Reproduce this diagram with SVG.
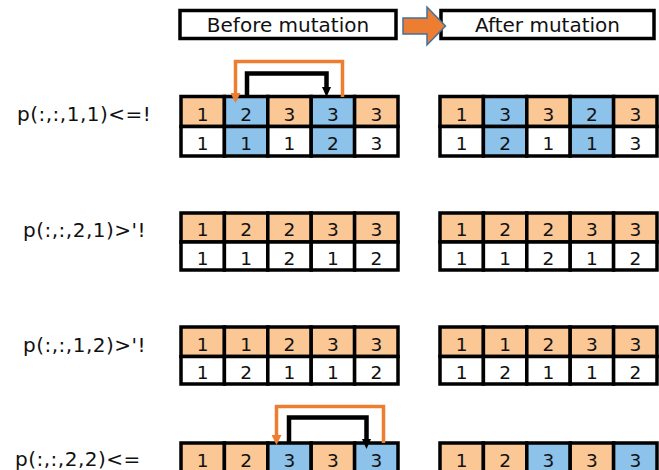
<svg xmlns="http://www.w3.org/2000/svg" width="659" height="470" viewBox="0 0 659 470">
  <style>
    .c{stroke:#000;stroke-width:3.5}
    .o{fill:#FAC795}
    .b{fill:#8DC2EA}
    .w{fill:#fff}
    .d{font-family:"DejaVu Sans","Liberation Sans",sans-serif;font-size:18.5px;fill:#111;text-anchor:middle}
    .lbl{font-family:"DejaVu Sans","Liberation Sans",sans-serif;font-size:20px;fill:#111;letter-spacing:0.5px}
    .hd{font-family:"DejaVu Sans","Liberation Sans",sans-serif;font-size:20px;fill:#111;text-anchor:middle}
    .hbox{fill:#fff;stroke:#000;stroke-width:3.5}
    .sw-o{fill:none;stroke:#ED7D31;stroke-width:3.5}
    .sw-k{fill:none;stroke:#000;stroke-width:4.5}
  </style>
  <defs>
    <marker id="headO" viewBox="0 0 10 10" refX="4" refY="5" markerWidth="10" markerHeight="10" markerUnits="userSpaceOnUse" orient="auto">
      <path d="M0,0 L10,5 L0,10 z" fill="#ED7D31"/>
    </marker>
    <marker id="headK" viewBox="0 0 10 10" refX="4" refY="5" markerWidth="10" markerHeight="10" markerUnits="userSpaceOnUse" orient="auto">
      <path d="M0,0.5 L10,5 L0,9.5 z" fill="#000"/>
    </marker>
  </defs>

  <rect width="659" height="470" fill="#fff"/>

  <!-- headers -->
  <g id="hdr-before">
    <rect class="hbox" x="180" y="10.5" width="216" height="28"/>
    <text class="hd" x="288" y="31.5">Before mutation</text>
  </g>
  <g id="hdr-after">
    <rect class="hbox" x="441" y="10.5" width="213" height="28"/>
    <text class="hd" x="547.5" y="31.5">After mutation</text>
  </g>
  <g id="hdr-arrow">
    <polygon points="403,18 427,18 427,7 445.5,26 427,45 427,34 403,34" fill="#ED7D31" stroke="#41719C" stroke-width="1.5" stroke-linejoin="miter"/>
  </g>

  <!-- row labels -->
  <g id="label-11"><text class="lbl" x="17" y="120.5">p(:,:,1,1)&lt;=!</text></g>
  <g id="label-21"><text class="lbl" x="23" y="236.5">p(:,:,2,1)&gt;'!</text></g>
  <g id="label-12"><text class="lbl" x="23" y="351.5">p(:,:,1,2)&gt;'!</text></g>
  <g id="label-22"><text class="lbl" x="15" y="466">p(:,:,2,2)&lt;=</text></g>

  <!-- p(:,:,1,1) before -->
  <g id="t11-before">
    <rect class="c o" x="181" y="96.5" width="43.4" height="30"/>
    <rect class="c b" x="224.4" y="96.5" width="43.4" height="30"/>
    <rect class="c o" x="267.8" y="96.5" width="43.4" height="30"/>
    <rect class="c b" x="311.2" y="96.5" width="43.4" height="30"/>
    <rect class="c o" x="354.6" y="96.5" width="43.4" height="30"/>
    <rect class="c w" x="181" y="126.5" width="43.4" height="29.5"/>
    <rect class="c b" x="224.4" y="126.5" width="43.4" height="29.5"/>
    <rect class="c w" x="267.8" y="126.5" width="43.4" height="29.5"/>
    <rect class="c b" x="311.2" y="126.5" width="43.4" height="29.5"/>
    <rect class="c w" x="354.6" y="126.5" width="43.4" height="29.5"/>
    <text class="d" x="202.7" y="120.5">1</text><text class="d" x="246.1" y="120.5">2</text><text class="d" x="289.5" y="120.5">3</text><text class="d" x="332.9" y="120.5">3</text><text class="d" x="376.3" y="120.5">3</text>
    <text class="d" x="202.7" y="149.5">1</text><text class="d" x="246.1" y="149.5">1</text><text class="d" x="289.5" y="149.5">1</text><text class="d" x="332.9" y="149.5">2</text><text class="d" x="376.3" y="149.5">3</text>
  </g>
  <!-- p(:,:,1,1) after -->
  <g id="t11-after">
    <rect class="c o" x="440" y="96.5" width="43.4" height="30"/>
    <rect class="c b" x="483.4" y="96.5" width="43.4" height="30"/>
    <rect class="c o" x="526.8" y="96.5" width="43.4" height="30"/>
    <rect class="c b" x="570.2" y="96.5" width="43.4" height="30"/>
    <rect class="c o" x="613.6" y="96.5" width="43.4" height="30"/>
    <rect class="c w" x="440" y="126.5" width="43.4" height="29.5"/>
    <rect class="c b" x="483.4" y="126.5" width="43.4" height="29.5"/>
    <rect class="c w" x="526.8" y="126.5" width="43.4" height="29.5"/>
    <rect class="c b" x="570.2" y="126.5" width="43.4" height="29.5"/>
    <rect class="c w" x="613.6" y="126.5" width="43.4" height="29.5"/>
    <text class="d" x="461.7" y="120.5">1</text><text class="d" x="505.1" y="120.5">3</text><text class="d" x="548.5" y="120.5">3</text><text class="d" x="591.9" y="120.5">2</text><text class="d" x="635.3" y="120.5">3</text>
    <text class="d" x="461.7" y="149.5">1</text><text class="d" x="505.1" y="149.5">2</text><text class="d" x="548.5" y="149.5">1</text><text class="d" x="591.9" y="149.5">1</text><text class="d" x="635.3" y="149.5">3</text>
  </g>

  <!-- p(:,:,2,1) before -->
  <g id="t21-before">
    <rect class="c o" x="181" y="213" width="43.4" height="29"/>
    <rect class="c o" x="224.4" y="213" width="43.4" height="29"/>
    <rect class="c o" x="267.8" y="213" width="43.4" height="29"/>
    <rect class="c o" x="311.2" y="213" width="43.4" height="29"/>
    <rect class="c o" x="354.6" y="213" width="43.4" height="29"/>
    <rect class="c w" x="181" y="242" width="43.4" height="28"/>
    <rect class="c w" x="224.4" y="242" width="43.4" height="28"/>
    <rect class="c w" x="267.8" y="242" width="43.4" height="28"/>
    <rect class="c w" x="311.2" y="242" width="43.4" height="28"/>
    <rect class="c w" x="354.6" y="242" width="43.4" height="28"/>
    <text class="d" x="202.7" y="236">1</text><text class="d" x="246.1" y="236">2</text><text class="d" x="289.5" y="236">2</text><text class="d" x="332.9" y="236">3</text><text class="d" x="376.3" y="236">3</text>
    <text class="d" x="202.7" y="264.5">1</text><text class="d" x="246.1" y="264.5">1</text><text class="d" x="289.5" y="264.5">2</text><text class="d" x="332.9" y="264.5">1</text><text class="d" x="376.3" y="264.5">2</text>
  </g>
  <!-- p(:,:,2,1) after -->
  <g id="t21-after">
    <rect class="c o" x="440" y="213" width="43.4" height="29"/>
    <rect class="c o" x="483.4" y="213" width="43.4" height="29"/>
    <rect class="c o" x="526.8" y="213" width="43.4" height="29"/>
    <rect class="c o" x="570.2" y="213" width="43.4" height="29"/>
    <rect class="c o" x="613.6" y="213" width="43.4" height="29"/>
    <rect class="c w" x="440" y="242" width="43.4" height="28"/>
    <rect class="c w" x="483.4" y="242" width="43.4" height="28"/>
    <rect class="c w" x="526.8" y="242" width="43.4" height="28"/>
    <rect class="c w" x="570.2" y="242" width="43.4" height="28"/>
    <rect class="c w" x="613.6" y="242" width="43.4" height="28"/>
    <text class="d" x="461.7" y="236">1</text><text class="d" x="505.1" y="236">2</text><text class="d" x="548.5" y="236">2</text><text class="d" x="591.9" y="236">3</text><text class="d" x="635.3" y="236">3</text>
    <text class="d" x="461.7" y="264.5">1</text><text class="d" x="505.1" y="264.5">1</text><text class="d" x="548.5" y="264.5">2</text><text class="d" x="591.9" y="264.5">1</text><text class="d" x="635.3" y="264.5">2</text>
  </g>

  <!-- p(:,:,1,2) before -->
  <g id="t12-before">
    <rect class="c o" x="181" y="327" width="43.4" height="29.5"/>
    <rect class="c o" x="224.4" y="327" width="43.4" height="29.5"/>
    <rect class="c o" x="267.8" y="327" width="43.4" height="29.5"/>
    <rect class="c o" x="311.2" y="327" width="43.4" height="29.5"/>
    <rect class="c o" x="354.6" y="327" width="43.4" height="29.5"/>
    <rect class="c w" x="181" y="356.5" width="43.4" height="27.5"/>
    <rect class="c w" x="224.4" y="356.5" width="43.4" height="27.5"/>
    <rect class="c w" x="267.8" y="356.5" width="43.4" height="27.5"/>
    <rect class="c w" x="311.2" y="356.5" width="43.4" height="27.5"/>
    <rect class="c w" x="354.6" y="356.5" width="43.4" height="27.5"/>
    <text class="d" x="202.7" y="350.5">1</text><text class="d" x="246.1" y="350.5">1</text><text class="d" x="289.5" y="350.5">2</text><text class="d" x="332.9" y="350.5">3</text><text class="d" x="376.3" y="350.5">3</text>
    <text class="d" x="202.7" y="378.5">1</text><text class="d" x="246.1" y="378.5">2</text><text class="d" x="289.5" y="378.5">1</text><text class="d" x="332.9" y="378.5">1</text><text class="d" x="376.3" y="378.5">2</text>
  </g>
  <!-- p(:,:,1,2) after -->
  <g id="t12-after">
    <rect class="c o" x="440" y="327" width="43.4" height="29.5"/>
    <rect class="c o" x="483.4" y="327" width="43.4" height="29.5"/>
    <rect class="c o" x="526.8" y="327" width="43.4" height="29.5"/>
    <rect class="c o" x="570.2" y="327" width="43.4" height="29.5"/>
    <rect class="c o" x="613.6" y="327" width="43.4" height="29.5"/>
    <rect class="c w" x="440" y="356.5" width="43.4" height="27.5"/>
    <rect class="c w" x="483.4" y="356.5" width="43.4" height="27.5"/>
    <rect class="c w" x="526.8" y="356.5" width="43.4" height="27.5"/>
    <rect class="c w" x="570.2" y="356.5" width="43.4" height="27.5"/>
    <rect class="c w" x="613.6" y="356.5" width="43.4" height="27.5"/>
    <text class="d" x="461.7" y="350.5">1</text><text class="d" x="505.1" y="350.5">1</text><text class="d" x="548.5" y="350.5">2</text><text class="d" x="591.9" y="350.5">3</text><text class="d" x="635.3" y="350.5">3</text>
    <text class="d" x="461.7" y="378.5">1</text><text class="d" x="505.1" y="378.5">2</text><text class="d" x="548.5" y="378.5">1</text><text class="d" x="591.9" y="378.5">1</text><text class="d" x="635.3" y="378.5">2</text>
  </g>

  <!-- p(:,:,2,2) before (lower row runs past the bottom edge) -->
  <g id="t22-before">
    <rect class="c o" x="181" y="443" width="43.4" height="29.5"/>
    <rect class="c o" x="224.4" y="443" width="43.4" height="29.5"/>
    <rect class="c b" x="267.8" y="443" width="43.4" height="29.5"/>
    <rect class="c o" x="311.2" y="443" width="43.4" height="29.5"/>
    <rect class="c b" x="354.6" y="443" width="43.4" height="29.5"/>
    <text class="d" x="202.7" y="467">1</text><text class="d" x="246.1" y="467">2</text><text class="d" x="289.5" y="467">3</text><text class="d" x="332.9" y="467">3</text><text class="d" x="376.3" y="467">3</text>
  </g>
  <!-- p(:,:,2,2) after -->
  <g id="t22-after">
    <rect class="c o" x="440" y="443" width="43.4" height="29.5"/>
    <rect class="c o" x="483.4" y="443" width="43.4" height="29.5"/>
    <rect class="c b" x="526.8" y="443" width="43.4" height="29.5"/>
    <rect class="c o" x="570.2" y="443" width="43.4" height="29.5"/>
    <rect class="c b" x="613.6" y="443" width="43.4" height="29.5"/>
    <text class="d" x="461.7" y="467">1</text><text class="d" x="505.1" y="467">2</text><text class="d" x="548.5" y="467">3</text><text class="d" x="591.9" y="467">3</text><text class="d" x="635.3" y="467">3</text>
  </g>

  <!-- swap connectors -->
  <g id="connectors">
    <path class="sw-o" d="M342.5,97 V61.5 H235.5 V97" marker-end="url(#headO)"/>
    <path class="sw-k" d="M247,97 V73.5 H326.5 V91" marker-end="url(#headK)"/>
    <path class="sw-o" d="M383.5,443 V406.5 H276.5 V439" marker-end="url(#headO)"/>
    <path class="sw-k" d="M289,443 V417.5 H366.5 V443" marker-end="url(#headK)"/>
  </g>
</svg>
